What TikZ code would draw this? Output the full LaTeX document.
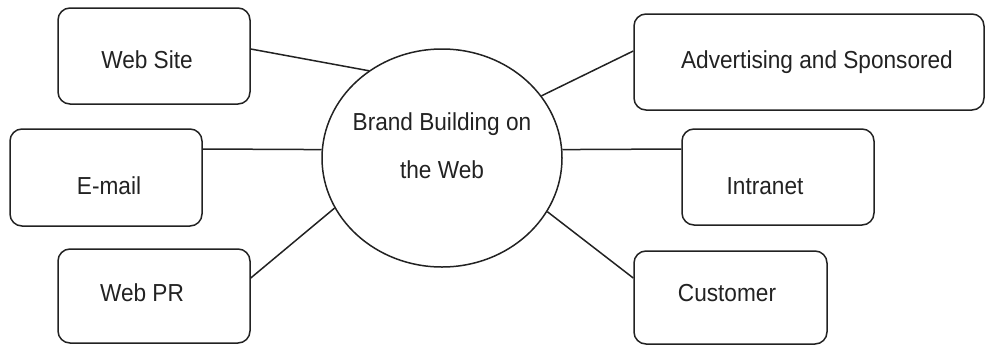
\documentclass[tikz,border=0pt]{standalone}
\usepackage{fontspec}
\setmainfont{Liberation Sans}
\newfontfamily\lblfont[FakeStretch=0.92]{Liberation Sans}
\usetikzlibrary{shapes.geometric}
\definecolor{ink}{HTML}{222222}
\begin{document}
\begin{tikzpicture}[x=1pt,y=-1pt,
  box/.style={draw=ink, line width=1.5pt, rounded corners=12pt, inner sep=0pt},
  hub/.style={draw=ink, line width=1.5pt, ellipse, inner sep=0pt,
              minimum width=240pt, minimum height=218pt},
  lbl/.style={anchor=base, inner sep=0pt, text=ink, font=\lblfont\fontsize{24.6}{29}\selectfont},
  link/.style={draw=ink, line width=1.5pt}]
\useasboundingbox (0,0) rectangle (985,346);

% central ellipse
\node[hub] (brand) at (442,158) {};
\node[lbl] (brandA) at (442,130) {Brand Building on};
\node[lbl] (brandB) at (442,178) {the Web};

% left boxes
\node[box, minimum width=192pt, minimum height=96pt] (ws) at (154,56) {};
\node[lbl] (wsT) at (147,68) {Web Site};
\node[box, minimum width=192pt, minimum height=97pt] (em) at (106,177.5) {};
\node[lbl] (emT) at (109,194) {E-mail};
\node[box, minimum width=192pt, minimum height=94pt] (pr) at (154,296) {};
\node[lbl] (prT) at (142,301) {Web PR};

% right boxes
\node[box, minimum width=350pt, minimum height=96pt] (ad) at (809,62) {};
\node[lbl] (adT) at (817,68) {Advertising and Sponsored};
\node[box, minimum width=192pt, minimum height=96pt] (in) at (778,177) {};
\node[lbl] (inT) at (765,194) {Intranet};
\node[box, minimum width=193pt, minimum height=93pt] (cu) at (730.5,297.5) {};
\node[lbl] (cuT) at (727,301) {Customer};

% connectors
\draw[link] ([yshift=7pt]ws.east) -- (brand.130);
\draw[link] ([yshift=28.5pt]em.east) -- (brand.176);
\draw[link] ([yshift=18pt]pr.east) -- (brand.205.7);
\draw[link] ([yshift=11pt]ad.west) -- (brand.32.4);
\draw[link] ([yshift=28pt]in.west) -- (brand.4);
\draw[link] ([yshift=19.5pt]cu.west) -- (brand.333.2);
\end{tikzpicture}
\end{document}
